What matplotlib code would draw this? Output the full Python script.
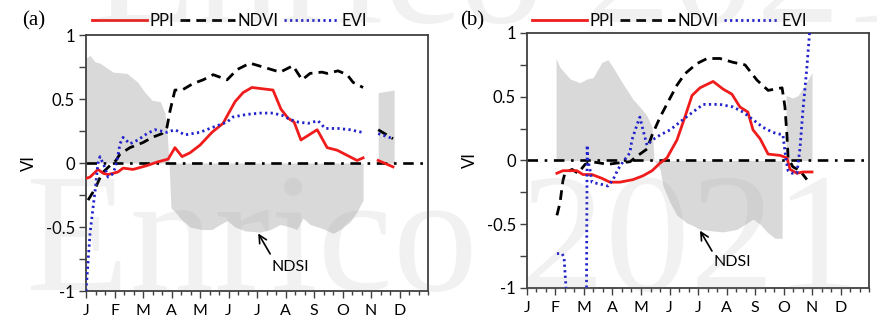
import numpy as np
import matplotlib
matplotlib.use("Agg")
import matplotlib.pyplot as plt
from matplotlib.ticker import FixedLocator, MultipleLocator

plt.rcParams["font.family"] = ["Lato", "DejaVu Sans"]
plt.rcParams["axes.unicode_minus"] = False

# ---------------- data (x in months since 1 January) ----------------
month_labels = ["J", "F", "M", "A", "M", "J", "J", "A", "S", "O", "N", "D"]
ytick_values = [-1, -0.5, 0, 0.5, 1]
ytick_labels = ["-1", "-0.5", "0", "0.5", "1"]

# Panel (a)
ndsi_a_x = [0.00, 0.14, 0.32, 0.49, 0.95, 1.44, 1.82, 2.07, 2.32, 2.60, 2.77, 2.84,
            2.91, 2.98, 3.12, 3.30, 3.65, 4.07, 4.42, 4.70, 4.95, 5.23, 5.58, 6.11,
            6.46, 6.81, 7.16, 7.40, 7.61, 7.86, 8.28, 8.67, 8.91, 9.26, 9.51, 9.72,
            10.0, 10.25, 10.81]
ndsi_a = [0.82, 0.84, 0.79, 0.78, 0.71, 0.70, 0.63, 0.55, 0.49, 0.48, 0.39, 0.26,
          0.0, -0.35, -0.38, -0.43, -0.50, -0.52, -0.52, -0.48, -0.45, -0.50, -0.53, -0.54,
          -0.52, -0.48, -0.50, -0.52, -0.43, -0.48, -0.51, -0.55, -0.52, -0.46, -0.38, -0.29,
          np.nan, 0.55, 0.57]

ppi_a_x = [0.00, 0.14, 0.42, 0.60, 0.77, 0.95, 1.12, 1.30, 1.65, 2.14, 2.53, 2.88,
           3.12, 3.37, 3.65, 4.00, 4.42, 4.81, 4.98, 5.23, 5.51, 5.82, 6.56, 6.84,
           7.09, 7.30, 7.54, 8.11, 8.46, 8.81, 9.16, 9.51, 9.72, 10.0, 10.25, 10.77]
ppi_a = [-0.12, -0.11, -0.05, -0.08, -0.09, -0.08, -0.07, -0.04, -0.05, -0.02, 0.01, 0.03,
         0.12, 0.05, 0.08, 0.14, 0.24, 0.31, 0.38, 0.48, 0.55, 0.59, 0.57, 0.42,
         0.35, 0.32, 0.18, 0.26, 0.12, 0.10, 0.06, 0.02, 0.04, np.nan, 0.02, -0.03]

ndvi_a_x = [0.07, 0.32, 0.56, 0.84, 1.05, 1.19, 1.54, 2.00, 2.32, 2.67, 2.84, 2.95,
            3.12, 3.37, 3.75, 4.11, 4.46, 4.95, 5.30, 5.75, 6.21, 6.81, 7.26, 7.58,
            7.86, 8.28, 8.46, 8.84, 9.16, 9.37, 9.72, 10.0, 10.25, 10.77]
ndvi_a = [-0.29, -0.20, -0.08, -0.02, 0.02, 0.07, 0.12, 0.16, 0.20, 0.23, 0.28, 0.41,
          0.57, 0.57, 0.62, 0.65, 0.69, 0.65, 0.73, 0.78, 0.75, 0.71, 0.76, 0.65,
          0.70, 0.71, 0.70, 0.72, 0.69, 0.63, 0.59, np.nan, 0.26, 0.19]

evi_a_x = [0.00, 0.14, 0.32, 0.42, 0.49, 0.67, 0.77, 0.91, 1.02, 1.12, 1.19, 1.30,
           1.54, 1.82, 2.14, 2.42, 2.84, 3.12, 3.47, 4.00, 4.46, 4.95, 5.16, 5.65,
           6.11, 6.56, 6.91, 7.16, 7.44, 7.79, 8.14, 8.39, 8.84, 9.26, 9.68, 10.0,
           10.25, 10.77]
evi_a = [-1.0, -0.55, -0.21, 0.0, 0.05, -0.04, -0.11, -0.09, -0.04, 0.06, 0.15, 0.20,
         0.15, 0.18, 0.23, 0.26, 0.24, 0.26, 0.22, 0.24, 0.28, 0.32, 0.36, 0.38,
         0.39, 0.39, 0.37, 0.34, 0.32, 0.31, 0.33, 0.27, 0.27, 0.26, 0.24, np.nan,
         0.23, 0.19]

# Panel (b)
ndsi_b_x = [1.02, 1.16, 1.51, 1.86, 2.11, 2.32, 2.63, 2.84, 3.02, 3.37, 3.72, 4.04,
            4.21, 4.39, 4.46, 4.53, 4.67, 4.77, 5.02, 5.26, 5.61, 5.82, 6.07, 6.42,
            6.88, 7.37, 7.72, 7.93, 8.18, 8.42, 8.70, 8.95, 9.02, 9.09, 9.33, 9.51,
            9.75, 10.0]
ndsi_b = [0.80, 0.73, 0.64, 0.61, 0.64, 0.65, 0.77, 0.79, 0.73, 0.60, 0.48, 0.40,
          0.35, 0.26, 0.0, -0.02, -0.07, -0.20, -0.33, -0.43, -0.49, -0.51, -0.54, -0.55,
          -0.56, -0.54, -0.49, -0.46, -0.50, -0.56, -0.61, -0.61, np.nan, 0.51, 0.49, 0.51,
          0.59, 0.69]

ppi_b_x = [1.05, 1.26, 1.51, 1.75, 1.96, 2.28, 2.63, 2.91, 3.26, 3.72, 4.07, 4.39,
           4.67, 4.91, 5.26, 5.54, 5.79, 6.07, 6.53, 6.88, 7.19, 7.47, 7.75, 7.93,
           8.18, 8.46, 8.88, 9.12, 9.23, 9.47, 9.68, 10.0]
ppi_b = [-0.10, -0.08, -0.08, -0.08, -0.11, -0.11, -0.14, -0.17, -0.17, -0.15, -0.12, -0.08,
         -0.02, 0.02, 0.16, 0.34, 0.51, 0.57, 0.62, 0.56, 0.52, 0.42, 0.38, 0.24,
         0.17, 0.05, 0.04, 0.02, -0.07, -0.10, -0.09, -0.09]

ndvi_b_x = [1.05, 1.16, 1.26, 1.33, 1.58, 1.79, 2.04, 2.28, 2.56, 2.84, 3.16, 3.61,
            3.96, 4.21, 4.39, 4.67, 4.95, 5.26, 5.54, 5.96, 6.32, 6.77, 7.23, 7.65,
            8.07, 8.46, 8.95, 9.05, 9.12, 9.16, 9.33, 9.58, 9.82]
ndvi_b = [-0.43, -0.33, -0.16, -0.10, -0.07, -0.10, -0.03, -0.01, -0.02, -0.03, -0.02, -0.01,
          0.05, 0.09, 0.20, 0.34, 0.46, 0.59, 0.68, 0.76, 0.80, 0.80, 0.77, 0.75,
          0.63, 0.55, 0.57, 0.42, 0.20, 0.02, -0.05, -0.08, -0.15]

evi_b_x = [1.05, 1.23, 1.30, 1.37, 1.70, 2.03, 2.11, 2.14, 2.21, 2.28, 2.46, 2.67,
           2.84, 3.02, 3.19, 3.37, 3.61, 3.68, 3.86, 3.96, 4.07, 4.21, 4.39, 4.67,
           5.02, 5.47, 5.82, 6.18, 6.77, 7.23, 7.58, 7.93, 8.28, 8.63, 8.98, 9.09,
           9.16, 9.30, 9.47, 9.58, 9.68, 9.82, 9.93, 10.0]
evi_b = [-0.73, -0.73, -0.76, -1.0, -4.0, -4.0, 0.12, 0.0, -0.07, -0.17, -0.18, -0.19,
         -0.20, -0.15, -0.07, -0.01, 0.06, 0.16, 0.28, 0.34, 0.24, 0.12, 0.16, 0.20,
         0.24, 0.32, 0.38, 0.44, 0.44, 0.42, 0.38, 0.32, 0.26, 0.22, 0.20, 0.0,
         -0.08, -0.10, -0.10, 0.10, 0.39, 0.73, 1.05, 1.40]

panels = [
    dict(tag="(a)", ndsi=(ndsi_a_x, ndsi_a), ppi=(ppi_a_x, ppi_a),
         ndvi=(ndvi_a_x, ndvi_a), evi=(evi_a_x, evi_a),
         arrow_tip=(6.04, -0.55), arrow_tail=(6.46, -0.71), label_xy=(7.16, -0.81)),
    dict(tag="(b)", ndsi=(ndsi_b_x, ndsi_b), ppi=(ppi_b_x, ppi_b),
         ndvi=(ndvi_b_x, ndvi_b), evi=(evi_b_x, evi_b),
         arrow_tip=(6.07, -0.55), arrow_tail=(6.49, -0.71), label_xy=(7.19, -0.80)),
]

# ---------------- styling ----------------
RED = "#f01c1c"
BLUE = "#2222cc"
FILL = "#d9d9d9"
SPINE = "#404040"

fig = plt.figure(figsize=(8.77, 3.20), dpi=100)
axes_rects = [[0.0981, 0.0906, 0.3900, 0.8000],
              [0.6009, 0.1000, 0.3900, 0.7969]]
legend_x = [92 / 877, 532 / 877]
tag_x = [22 / 877, 460 / 877]


def segments(xs, ys):
    xs = np.asarray(xs, float)
    ys = np.asarray(ys, float)
    ok = ~np.isnan(ys)
    idx = np.where(ok)[0]
    if len(idx) == 0:
        return []
    breaks = np.where(np.diff(idx) > 1)[0]
    groups = np.split(idx, breaks + 1)
    return [(xs[g], ys[g]) for g in groups]


for i, (p, rect) in enumerate(zip(panels, axes_rects)):
    ax = fig.add_axes(rect)
    ax.set_xlim(0, 12)
    ax.set_ylim(-1, 1)

    for sx, sy in segments(*p["ndsi"]):
        ax.fill_between(sx, 0, sy, color=FILL, lw=0, zorder=1)

    ax.axhline(0, color="black", lw=1.9, ls=(0, (4, 2.5, 1, 2.5)), zorder=2)

    l1, = ax.plot(*p["ppi"], color=RED, lw=2.0, zorder=4, label="PPI")
    l2, = ax.plot(*p["ndvi"], color="black", lw=2.0, ls=(0, (3.5, 2.2)), zorder=3, label="NDVI")
    l3, = ax.plot(*p["evi"], color=BLUE, lw=2.0, ls=(0, (0.8, 1.2)), zorder=5, label="EVI")

    ax.annotate("", xy=p["arrow_tip"], xytext=p["arrow_tail"],
                arrowprops=dict(arrowstyle="->", color="black", lw=1.2,
                                mutation_scale=14, shrinkA=0, shrinkB=0), zorder=6)
    ax.text(*p["label_xy"], "NDSI", ha="center", va="center", fontsize=11.5, zorder=6)

    # axes decoration
    ax.yaxis.set_major_locator(FixedLocator(ytick_values))
    ax.set_yticklabels(ytick_labels)
    ax.yaxis.set_minor_locator(MultipleLocator(0.25))
    ax.xaxis.set_major_locator(FixedLocator(np.arange(12)))
    ax.set_xticklabels(month_labels)
    ax.xaxis.set_minor_locator(MultipleLocator(1 / 3))
    ax.tick_params(axis="both", which="both", direction="out", color=SPINE,
                   labelsize=12, width=1.0)
    ax.tick_params(axis="y", which="major", length=5, pad=3)
    ax.tick_params(axis="y", which="minor", length=5)
    ax.tick_params(axis="x", which="major", length=5, pad=4, labelsize=11.5)
    ax.tick_params(axis="x", which="minor", length=3)
    for s in ax.spines.values():
        s.set_color(SPINE)
        s.set_linewidth(1.3)
    ax.set_ylabel("VI", fontsize=12, labelpad=6)

    fig.text(tag_x[i], 0.935, p["tag"], fontsize=15, va="center",
             family=["Liberation Serif", "DejaVu Serif"])
    fig.legend(handles=[l1, l2, l3], loc="center left",
               bbox_to_anchor=(legend_x[i], 0.935), ncol=3, frameon=False,
               fontsize=12, handlelength=3.3, handletextpad=0.15,
               columnspacing=0.35, borderaxespad=0, borderpad=0)

# faint name stamp across the figure
for x, y in [(0.105, 0.93), (0.03, 0.095)]:
    fig.text(x, y, "Enrico 2021", fontsize=122, color="#888888", alpha=0.11,
             family=["Liberation Serif", "DejaVu Serif"], ha="left",
             va="baseline", zorder=10)

fig.savefig("out.png", dpi=100)
